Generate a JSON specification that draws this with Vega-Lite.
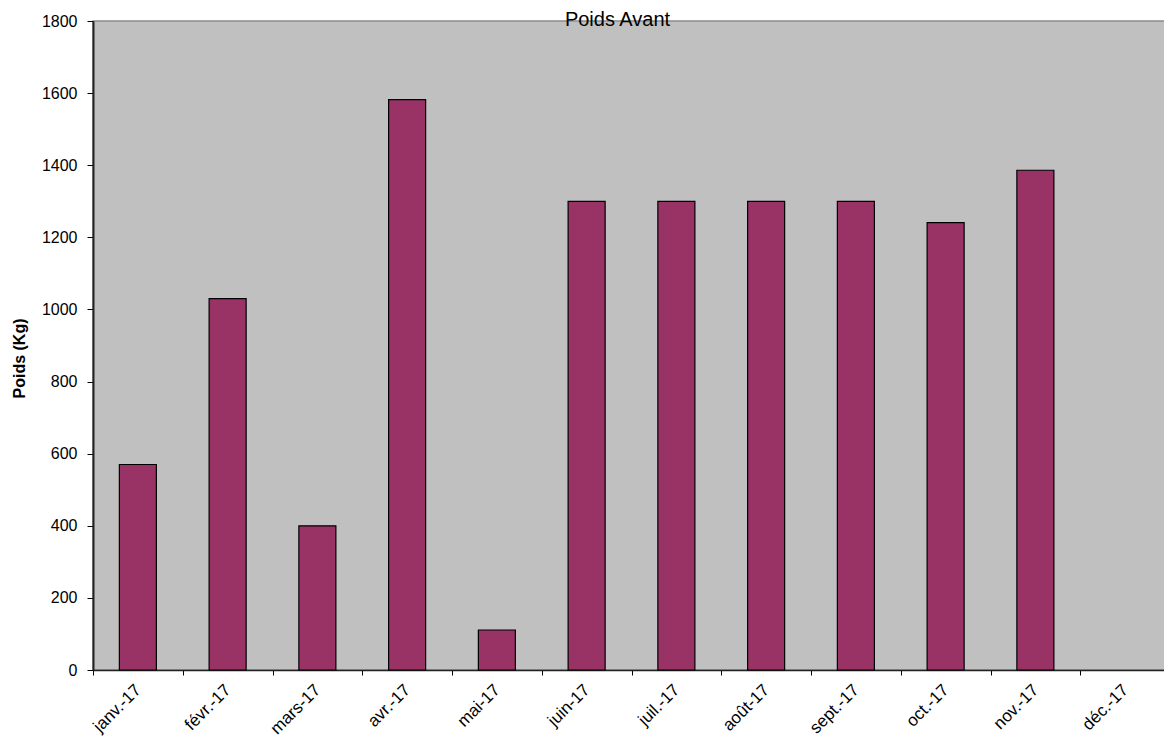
{
  "$schema": "https://vega.github.io/schema/vega-lite/v6.json",
  "autosize": {"type": "none"},
  "padding": {"left": 93, "top": 21, "right": 0, "bottom": 67},
  "width": 1077,
  "height": 649,
  "background": "white",
  "config": {
    "font": "Liberation Sans",
    "view": {"fill": "#C0C0C0", "stroke": "#8c8c8c", "strokeWidth": 1.5}
  },
  "title": {
    "text": "Poids Avant",
    "fontSize": 20,
    "fontWeight": "normal",
    "font": "Liberation Sans",
    "color": "black",
    "anchor": "middle",
    "dx": -14,
    "baseline": "alphabetic",
    "offset": 0,
    "dy": 33
  },
  "data": {
    "values": [
      {"mois": "janv.-17", "poids": 570},
      {"mois": "févr.-17", "poids": 1030},
      {"mois": "mars-17", "poids": 400},
      {"mois": "avr.-17", "poids": 1582},
      {"mois": "mai-17", "poids": 111},
      {"mois": "juin-17", "poids": 1300},
      {"mois": "juil.-17", "poids": 1300},
      {"mois": "août-17", "poids": 1300},
      {"mois": "sept.-17", "poids": 1300},
      {"mois": "oct.-17", "poids": 1241},
      {"mois": "nov.-17", "poids": 1386},
      {"mois": "déc.-17", "poids": null}
    ]
  },
  "mark": {"type": "bar", "fill": "#993366", "stroke": "black", "strokeWidth": 1.2, "width": {"band": 0.4125}},
  "encoding": {
    "x": {
      "field": "mois",
      "type": "nominal",
      "sort": null,
      "scale": {
        "domain": ["janv.-17", "févr.-17", "mars-17", "avr.-17", "mai-17", "juin-17", "juil.-17", "août-17", "sept.-17", "oct.-17", "nov.-17", "déc.-17"],
        "paddingInner": 0, "paddingOuter": 0
      },
      "axis": {
        "title": null,
        "tickBand": "extent",
        "labelAngle": -45,
        "labelAlign": "right",
        "labelBaseline": "middle",
        "labelFontSize": 17,
        "labelColor": "black",
        "labelPadding": 12,
        "labelOverlap": false,
        "tickSize": 5,
        "tickColor": "black",
        "domainColor": "#222222",
        "domainWidth": 1.5,
        "grid": false
      }
    },
    "y": {
      "field": "poids",
      "type": "quantitative",
      "scale": {"domain": [0, 1800], "nice": false},
      "axis": {
        "title": "Poids (Kg)",
        "titleFontSize": 16,
        "titleFontWeight": "bold",
        "titleColor": "black",
        "titleX": -74,
        "titleY": 337,
        "titleAlign": "center",
        "titleBaseline": "middle",
        "titleAngle": -90,
        "values": [0, 200, 400, 600, 800, 1000, 1200, 1400, 1600, 1800],
        "format": "d",
        "labelFontSize": 16,
        "labelColor": "black",
        "labelPadding": 10,
        "tickSize": 6,
        "tickColor": "black",
        "domainColor": "#222222",
        "domainWidth": 2,
        "grid": false
      }
    }
  }
}
